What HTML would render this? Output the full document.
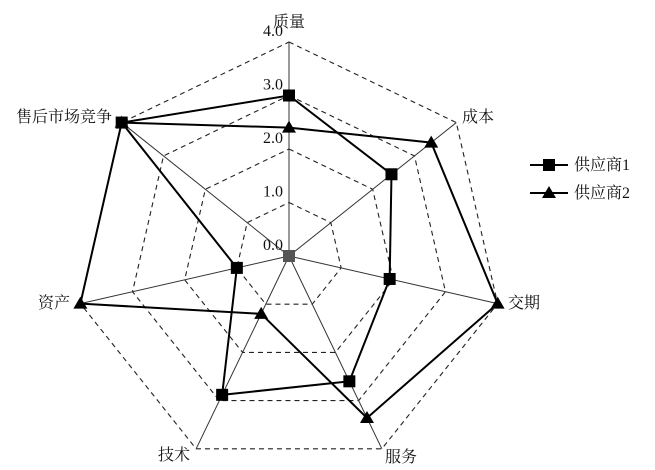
<!DOCTYPE html>
<html><head><meta charset="utf-8"><style>
body{margin:0;background:#fff}
svg{font-family:"Liberation Serif","Noto Serif CJK SC","Noto Sans CJK SC",serif}
</style></head><body>
<svg id="c" width="655" height="465"></svg>
<script>
const categories=["质量","成本","交期","服务","技术","资产","售后市场竞争"];
const series1=[3.0,2.45,1.93,2.6,2.88,1.0,4.0];
const series2=[2.4,3.4,4.0,3.36,1.2,4.0,4.0];
const ticks=["0.0","1.0","2.0","3.0","4.0"];
const seriesNames=["供应商1","供应商2"];
const NS="http://www.w3.org/2000/svg";
const svg=document.getElementById('c');
const cx=289,cy=256,R=214,maxV=4;
function pt(i,v){const a=i*2*Math.PI/categories.length;const r=v/maxV*R;return [cx+r*Math.sin(a),cy-r*Math.cos(a)];}
function mk(t,at,name){const e=document.createElementNS(NS,t);for(const k in at)e.setAttribute(k,at[k]);


svg.appendChild(e);return e;}
for(let k=1;k<ticks.length;k++){const v=k;const p=categories.map((_,i)=>pt(i,v).join(',')).join(' ');
mk('polygon',{points:p,fill:'none',stroke:'#222','stroke-width':1.1,'stroke-dasharray':'5,4'},'grid-ring');}
categories.forEach((c,i)=>{const [x,y]=pt(i,maxV);mk('line',{x1:cx,y1:cy,x2:x,y2:y,stroke:'#333','stroke-width':1},'axis-line');});
ticks.forEach((t,k)=>{const [x,y]=pt(0,k);const e=mk('text',{x:x-6,y:y-6,'text-anchor':'end','font-size':16,fill:'#111'},'tick-label');e.textContent=t;});
const lp=[[289,27,'middle'],[462,122,'start'],[508,308,'start'],[385,462,'start'],[190,460,'end'],[70,308,'end'],[112,122,'end']];
categories.forEach((c,i)=>{const e=mk('text',{x:lp[i][0],y:lp[i][1],'text-anchor':lp[i][2],'font-size':16,fill:'#111'},'category-label');e.textContent=c;});
function drawSeries(vals,marker,name){
 const p=vals.map((v,i)=>pt(i,v).join(',')).join(' ');
 mk('polygon',{points:p,fill:'none',stroke:'#000','stroke-width':2},name+'-line');
 vals.forEach((v,i)=>{const [x,y]=pt(i,v);
  if(marker==='sq')mk('rect',{x:x-6,y:y-6,width:12,height:12,fill:'#000'},name+'-point');
  else mk('polygon',{points:`${x},${y-7} ${x-7},${y+5} ${x+7},${y+5}`,fill:'#000'},name+'-point');});
}
drawSeries(series2,'tri','series2');
drawSeries(series1,'sq','series1');
mk('rect',{x:cx-6,y:cy-6,width:12,height:12,fill:'#555'},'center-marker');
[[165,'sq'],[193,'tri']].forEach(([y,m],k)=>{
 mk('line',{x1:530,y1:y,x2:568,y2:y,stroke:'#000','stroke-width':2},'legend-line');
 if(m==='sq')mk('rect',{x:543,y:y-6,width:12,height:12,fill:'#000'},'legend-marker');
 else mk('polygon',{points:`549,${y-7} 542,${y+5} 556,${y+5}`,fill:'#000'},'legend-marker');
 const e=mk('text',{x:574,y:y+5,'font-size':16,fill:'#111'},'legend-entry');e.textContent=seriesNames[k];
});
</script>
</body></html>
